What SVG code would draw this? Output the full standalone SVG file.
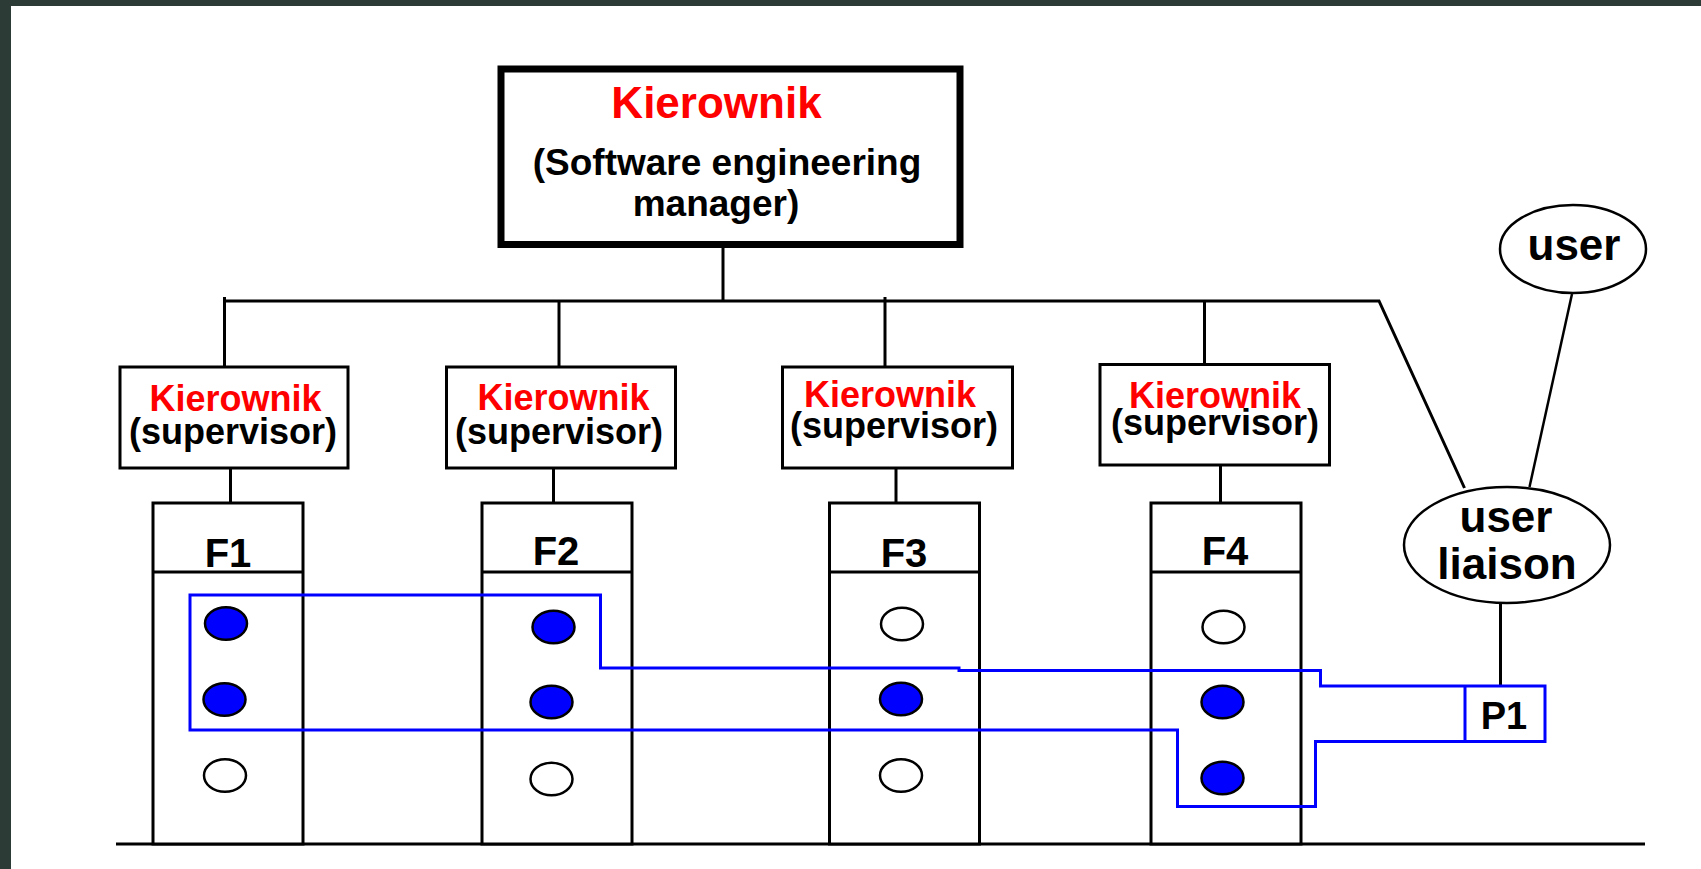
<svg xmlns="http://www.w3.org/2000/svg" width="1701" height="869" viewBox="0 0 1701 869">
  <style>
    .bg { fill: #ffffff; }
    .frame { fill: #2c3b36; }
    .box { fill: #ffffff; stroke: #000000; stroke-width: 3; }
    .boss { fill: #ffffff; stroke: #000000; stroke-width: 7; }
    .line { fill: none; stroke: #000000; stroke-width: 3; }
    .thin { fill: none; stroke: #000000; stroke-width: 2.5; }
    .oval { fill: #ffffff; stroke: #000000; stroke-width: 2.5; }
    .dot { fill: #ffffff; stroke: #000000; stroke-width: 2.5; }
    .dot.on { fill: #0000ff; }
    .proj { fill: none; stroke: #0000ff; stroke-width: 3; }
    text { font-family: "Liberation Sans", Arial, sans-serif; font-weight: bold; text-anchor: middle; fill: #000000; }
    .red { fill: #ff0000; }
    .t44 { font-size: 44px; }
    .t37 { font-size: 37px; }
    .t36 { font-size: 36px; }
    .t40 { font-size: 40px; }
    .t38 { font-size: 38px; }
  </style>

  <!-- page background with dark edge -->
  <rect class="frame" x="0" y="0" width="1701" height="869"/>
  <rect class="bg" x="11" y="6" width="1690" height="863"/>

  <!-- connectors -->
  <g id="connectors">
    <line class="line" x1="723" y1="248" x2="723" y2="301"/>
    <polyline class="line" points="224,301 1379,301 1464.5,488"/>
    <line class="line" x1="224.5" y1="297" x2="224.5" y2="367"/>
    <line class="line" x1="559" y1="301" x2="559" y2="367"/>
    <line class="line" x1="885" y1="297" x2="885" y2="367"/>
    <line class="line" x1="1204.5" y1="301" x2="1204.5" y2="364"/>
    <line class="line" x1="230.5" y1="468" x2="230.5" y2="503"/>
    <line class="line" x1="553.5" y1="468" x2="553.5" y2="503"/>
    <line class="line" x1="896" y1="468" x2="896" y2="503"/>
    <line class="line" x1="1220.5" y1="465" x2="1220.5" y2="503"/>
    <line class="thin" x1="1572" y1="294" x2="1529.5" y2="487"/>
    <line class="line" x1="1500.5" y1="603" x2="1500.5" y2="686"/>
    <line class="line" x1="116" y1="844" x2="1645" y2="844" stroke-width="3.5"/>
  </g>

  <!-- top manager -->
  <g id="manager">
    <rect class="boss" x="501" y="69" width="459" height="175.5"/>
    <text class="t44 red" x="716.5" y="118">Kierownik</text>
    <text class="t37" x="727" y="175">(Software engineering</text>
    <text class="t37" x="716" y="216">manager)</text>
  </g>

  <!-- supervisors -->
  <g id="supervisor-1">
    <rect class="box" x="120" y="367" width="228" height="101"/>
    <text class="t36 red" x="235.5" y="411">Kierownik</text>
    <text class="t36" x="233" y="444">(supervisor)</text>
  </g>
  <g id="supervisor-2">
    <rect class="box" x="446.5" y="367" width="229" height="101"/>
    <text class="t36 red" x="563.5" y="410">Kierownik</text>
    <text class="t36" x="559" y="444">(supervisor)</text>
  </g>
  <g id="supervisor-3">
    <rect class="box" x="782.5" y="367" width="230" height="101"/>
    <text class="t36 red" x="890" y="406.5">Kierownik</text>
    <text class="t36" x="894" y="438">(supervisor)</text>
  </g>
  <g id="supervisor-4">
    <rect class="box" x="1100" y="364.5" width="229.5" height="100.5"/>
    <text class="t36 red" x="1215" y="408">Kierownik</text>
    <text class="t36" x="1215" y="435">(supervisor)</text>
  </g>

  <!-- functional groups -->
  <g id="F1">
    <rect class="box" x="153" y="503" width="150" height="341"/>
    <line class="line" x1="153" y1="572" x2="303" y2="572"/>
    <text class="t40" x="228" y="567">F1</text>
    <ellipse class="dot on" cx="226" cy="623.5" rx="21" ry="16.3"/>
    <ellipse class="dot on" cx="224.5" cy="699.5" rx="21" ry="16.3"/>
    <ellipse class="dot" cx="225" cy="775.5" rx="21" ry="16.3"/>
  </g>
  <g id="F2">
    <rect class="box" x="482" y="503" width="150" height="341"/>
    <line class="line" x1="482" y1="572" x2="632" y2="572"/>
    <text class="t40" x="556" y="565">F2</text>
    <ellipse class="dot on" cx="553.5" cy="627" rx="21" ry="16.3"/>
    <ellipse class="dot on" cx="551.5" cy="702" rx="21" ry="16.3"/>
    <ellipse class="dot" cx="551.5" cy="779" rx="21" ry="16.3"/>
  </g>
  <g id="F3">
    <rect class="box" x="829.5" y="503" width="150" height="341"/>
    <line class="line" x1="829.5" y1="572" x2="979.5" y2="572"/>
    <text class="t40" x="904" y="567">F3</text>
    <ellipse class="dot" cx="902" cy="624" rx="21" ry="16.3"/>
    <ellipse class="dot on" cx="901" cy="699" rx="21" ry="16.3"/>
    <ellipse class="dot" cx="901" cy="775.5" rx="21" ry="16.3"/>
  </g>
  <g id="F4">
    <rect class="box" x="1151" y="503" width="150" height="341"/>
    <line class="line" x1="1151" y1="572" x2="1301" y2="572"/>
    <text class="t40" x="1225" y="565">F4</text>
    <ellipse class="dot" cx="1223.5" cy="627" rx="21" ry="16.3"/>
    <ellipse class="dot on" cx="1222.5" cy="702" rx="21" ry="16.3"/>
    <ellipse class="dot on" cx="1222.5" cy="778" rx="21" ry="16.3"/>
  </g>

  <!-- user side -->
  <g id="user">
    <ellipse class="oval" cx="1573" cy="249" rx="73" ry="44"/>
    <text class="t44" x="1574" y="260" font-size="42">user</text>
  </g>
  <g id="user-liaison">
    <ellipse class="oval" cx="1507" cy="545" rx="103" ry="58"/>
    <text class="t44" x="1506" y="532">user</text>
    <text class="t44" x="1507" y="578.5">liaison</text>
  </g>

  <!-- project P1 spanning members of several groups -->
  <g id="P1">
    <path class="proj" d="M190,595 H600.5 V668 H959 V670.5 H1320.5 V686 H1545 V741.5 H1315.5 V806.5 H1177.5 V730 H190 Z"/>
    <line class="proj" x1="1465" y1="686" x2="1465" y2="741.5"/>
    <text class="t38" x="1504" y="728.5">P1</text>
  </g>
</svg>
